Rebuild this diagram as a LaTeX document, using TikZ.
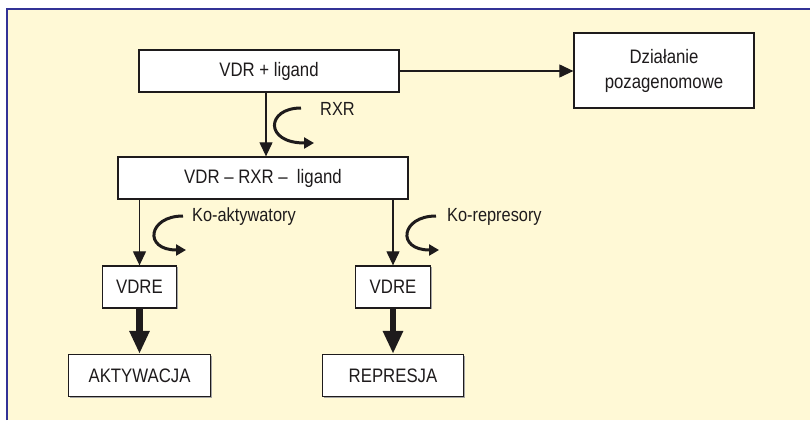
\documentclass[tikz,border=0pt]{standalone}
\usepackage{fontspec}
\setmainfont{Liberation Sans}[FakeStretch=0.86]
\usetikzlibrary{arrows.meta,shadows}
\definecolor{cream}{RGB}{255,249,214}
\definecolor{frameblue}{RGB}{50,50,150}
\definecolor{ink}{RGB}{30,27,28}
\begin{document}
\begin{tikzpicture}[x=1pt,y=-1pt,
  box/.style={draw=ink,line width=1.3pt,fill=white,text=ink,
    font=\fontsize{19.5}{25}\selectfont,inner sep=0pt,align=center,
    drop shadow={shadow xshift=1.2pt,shadow yshift=-1.2pt,fill=black!35,opacity=1}},
  lbl/.style={text=ink,font=\fontsize{19}{22}\selectfont,inner sep=0pt,anchor=west},
  arr/.style={draw=ink,line width=1.2pt,-{Triangle[length=14pt 0 0,width=13pt 0 0]}},
  bigarr/.style={draw=ink,line width=6.5pt,-{Triangle[length=23pt 0 0,width=19pt 0 0]}},
  curv/.style={draw=ink,line width=3pt,-{Triangle[length=10pt 0 0,width=11pt 0 0]}}]
\useasboundingbox (0,0) rectangle (810,420);
\fill[white] (0,0) rectangle (810,420);
\fill[cream] (7,9) rectangle (810,420);
\draw[frameblue,line width=2.6pt] (7,420) -- (7,9) -- (810,9);

\node[box,minimum width=260pt,minimum height=42pt] (top) at (269,71) {VDR + ligand};
\node[box,minimum width=180pt,minimum height=75pt] (dz) at (664,70.5) {Działanie\\pozagenomowe};
\node[box,minimum width=290pt,minimum height=42pt] (mid) at (263,178) {VDR -- RXR -- \ ligand};
\node[box,minimum width=74pt,minimum height=42pt] (vl) at (139.5,287) {VDRE};
\node[box,minimum width=75pt,minimum height=42pt] (vr) at (393,287) {VDRE};
\node[box,minimum width=142pt,minimum height=42pt] (ak) at (139.5,375.5) {AKTYWACJA};
\node[box,minimum width=141pt,minimum height=42pt] (re) at (393,375.5) {REPRESJA};

\draw[arr] (top.east) -- (top.east -| dz.west);
\draw[arr] ([xshift=-3pt]top.south) -- ([xshift=-3pt]top.south |- mid.north);
\draw[arr] (mid.south -| vl.north) -- (vl.north);
\draw[arr] (mid.south -| vr.north) -- (vr.north);
\draw[bigarr] (vl.south) -- (ak.north);
\draw[bigarr] (vr.south) -- (re.north);

\draw[curv] (301,108) .. controls (266,108) and (264,143) .. (314,143);
\draw[curv] (183,216) .. controls (148,216) and (143,250) .. (186,250);
\draw[curv] (436,216) .. controls (401,216) and (396,250) .. (439,250);

\node[lbl] (rxr) at (320,108.5) {RXR};
\node[lbl] (koa) at (192,217) {Ko-aktywatory};
\node[lbl] (kor) at (447,217) {Ko-represory};
\end{tikzpicture}
\end{document}
